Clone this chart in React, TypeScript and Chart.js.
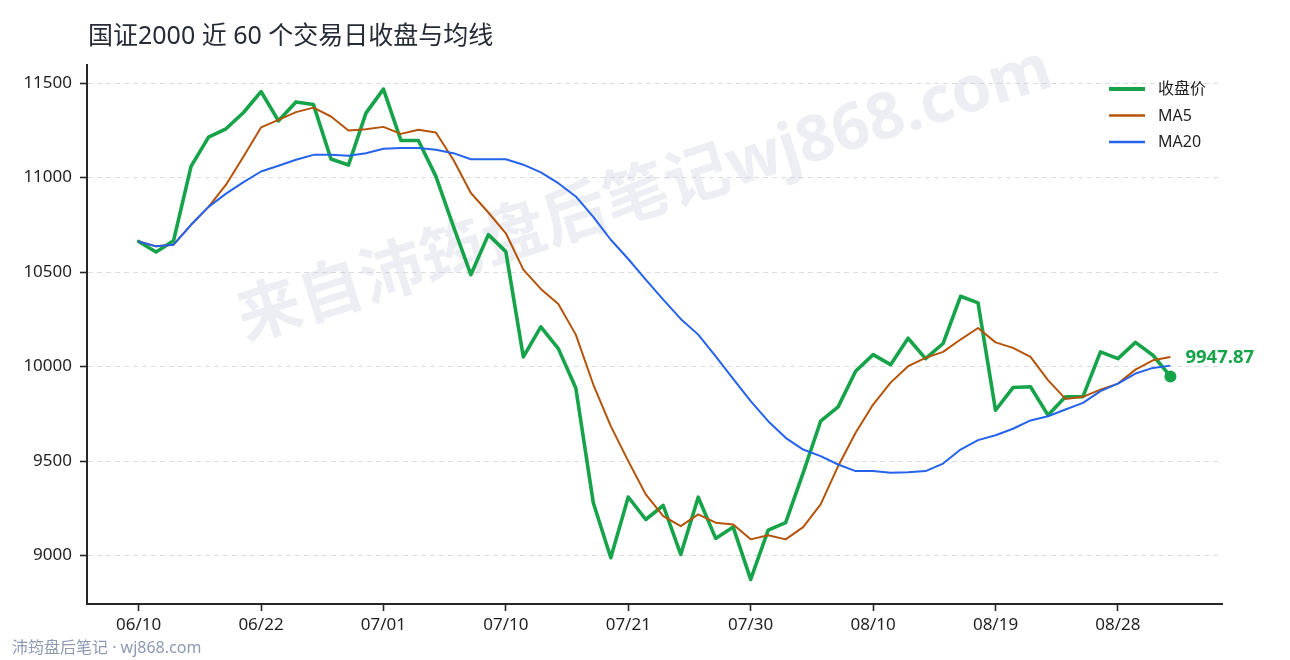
import React, { useEffect, useRef } from "react";
import { Chart, registerables } from "chart.js";

Chart.register(...registerables);

const FONT = "'Noto Sans', 'Noto Sans CJK SC', sans-serif";

const dates = [
  "06/10", "06/11", "06/12", "06/15", "06/16", "06/18", "06/19",
  "06/22", "06/23", "06/24", "06/25", "06/26", "06/29", "06/30",
  "07/01", "07/02", "07/03", "07/06", "07/07", "07/08", "07/09",
  "07/10", "07/13", "07/14", "07/15", "07/16", "07/17", "07/20",
  "07/21", "07/22", "07/23", "07/24", "07/27", "07/28", "07/29",
  "07/30", "07/31", "08/03", "08/04", "08/05", "08/06", "08/07",
  "08/10", "08/11", "08/12", "08/13", "08/14", "08/17", "08/18",
  "08/19", "08/20", "08/21", "08/24", "08/25", "08/26", "08/27",
  "08/28", "08/31", "09/01", "09/02",
];

const closeValues = [
  10662, 10606, 10666, 11059, 11214, 11258, 11344, 11455, 11300, 11400,
  11386, 11098, 11066, 11341, 11468, 11196, 11196, 11006, 10742, 10486,
  10698, 10608, 10051, 10210, 10095, 9887, 9280, 8989, 9310, 9191,
  9265, 9006, 9309, 9091, 9151, 8874, 9135, 9174, 9438, 9711,
  9787, 9975, 10063, 10010, 10150, 10042, 10122, 10372, 10337, 9769,
  9889, 9893, 9743, 9840, 9841, 10078, 10042, 10128, 10060, 9947.87,
];

const ma5Values = [
  10662, 10636, 10645, 10750, 10845, 10962, 11111, 11265, 11305, 11346,
  11370, 11323, 11249, 11256, 11268, 11231, 11253, 11238, 11094, 10918,
  10815, 10705, 10513, 10411, 10331, 10169, 9905, 9685, 9500, 9324,
  9209, 9156, 9218, 9174, 9165, 9086, 9108, 9086, 9151, 9271,
  9473, 9650, 9799, 9915, 10002, 10046, 10078, 10143, 10204, 10128,
  10099, 10051, 9928, 9829, 9840, 9878, 9910, 9984, 10033, 10051,
];

const ma20Values = [
  10662, 10636, 10645, 10750, 10845, 10915, 10976, 11032, 11062, 11094,
  11120, 11120, 11115, 11129, 11152, 11156, 11156, 11147, 11129, 11097,
  11097, 11097, 11068, 11027, 10970, 10900, 10792, 10671, 10569, 10460,
  10354, 10252, 10169, 10054, 9935, 9817, 9711, 9623, 9561, 9526,
  9482, 9447, 9447, 9438, 9441, 9447, 9487, 9561, 9611, 9637,
  9671, 9715, 9737, 9773, 9808, 9870, 9910, 9963, 9993, 10005,
];

const xTickIndices = [0, 7, 14, 21, 28, 35, 42, 49, 56];
const yTickValues = [9000, 9500, 10000, 10500, 11000, 11500];
const yMin = 8744;
const yMax = 11598;

const titleText = "国证2000 近 60 个交易日收盘与均线";
const legendLabels = ["收盘价", "MA5", "MA20"];
const watermarkText = "来自沛筠盘后笔记wj868.com";
const footerText = "沛筠盘后笔记 · wj868.com";
const lastLabel = "9947.87";

const GREEN = "#16a34a";
const ORANGE = "#b45309";
const BLUE = "#2563eb";
const colors = [GREEN, ORANGE, BLUE];
const widths = [3.6, 2, 2];

const toPoints = (arr: number[]) => arr.map((v, i) => ({ x: i, y: v }));

const decorPlugin = {
  id: "decor",
  beforeDatasetsDraw(chart: any) {
    const ctx = chart.ctx;
    ctx.save();
    ctx.translate(645, 196);
    ctx.rotate((-17.5 * Math.PI) / 180);
    ctx.font = `bold 64px ${FONT}`;
    ctx.fillStyle = "rgba(195,200,215,0.3)";
    ctx.textAlign = "center";
    ctx.textBaseline = "middle";
    ctx.fillText(watermarkText, 0, 0);
    ctx.restore();
  },
  afterDraw(chart: any) {
    const ctx = chart.ctx;
    ctx.save();
    // title
    ctx.font = `25px ${FONT}`;
    ctx.fillStyle = "#262b36";
    ctx.textAlign = "left";
    ctx.textBaseline = "middle";
    ctx.fillText(titleText, 88, 37);

    // legend
    const ly = [89, 115.5, 142];
    for (let i = 0; i < 3; i++) {
      ctx.beginPath();
      ctx.strokeStyle = colors[i];
      ctx.lineWidth = i === 0 ? 4 : 2.5;
      ctx.moveTo(1109, ly[i]);
      ctx.lineTo(1145, ly[i]);
      ctx.stroke();
      ctx.font = `16px ${FONT}`;
      ctx.fillStyle = "#1f1f1f";
      ctx.textAlign = "left";
      ctx.textBaseline = "middle";
      ctx.fillText(legendLabels[i], 1158, ly[i] + 0.5);
    }

    // end label
    const xs = chart.scales.x;
    const ys = chart.scales.y;
    const last = closeValues.length - 1;
    const px = xs.getPixelForValue(last);
    const py = ys.getPixelForValue(closeValues[last]);
    ctx.font = `bold 18.5px ${FONT}`;
    ctx.fillStyle = GREEN;
    ctx.textAlign = "left";
    ctx.textBaseline = "middle";
    ctx.fillText(lastLabel, px + 15, py - 19);

    // footer
    ctx.font = `16px ${FONT}`;
    ctx.fillStyle = "#8d9ab2";
    ctx.fillText(footerText, 12, 648);
    ctx.restore();
  },
};

export default function App() {
  const ref = useRef<HTMLCanvasElement | null>(null);

  useEffect(() => {
    if (!ref.current) return;
    const lastIdx = closeValues.length - 1;
    const chart = new Chart(ref.current, {
      type: "line",
      data: {
        datasets: [
          {
            label: legendLabels[0],
            data: toPoints(closeValues),
            borderColor: GREEN,
            backgroundColor: GREEN,
            borderWidth: widths[0],
            pointRadius: (c: any) => (c.dataIndex === lastIdx ? 6 : 0),
            pointBorderWidth: 0,
            pointBackgroundColor: GREEN,
            tension: 0,
            borderJoinStyle: "round",
            borderCapStyle: "round",
            order: 3,
          },
          {
            label: legendLabels[1],
            data: toPoints(ma5Values),
            borderColor: ORANGE,
            borderWidth: widths[1],
            pointRadius: 0,
            tension: 0,
            borderJoinStyle: "round",
            order: 2,
          },
          {
            label: legendLabels[2],
            data: toPoints(ma20Values),
            borderColor: BLUE,
            borderWidth: widths[2],
            pointRadius: 0,
            tension: 0,
            borderJoinStyle: "round",
            order: 1,
          },
        ],
      },
      options: {
        responsive: false,
        devicePixelRatio: 1,
        animation: false,
        layout: { padding: { top: 64.5, right: 68, bottom: 0, left: 0 } },
        plugins: {
          legend: { display: false },
          tooltip: { enabled: false },
          title: { display: false },
        },
        scales: {
          x: {
            type: "linear",
            min: -2.95,
            max: 61.95,
            afterBuildTicks: (s: any) => {
              s.ticks = xTickIndices.map((v) => ({ value: v }));
            },
            afterFit: (s: any) => {
              s.height = 56;
            },
            ticks: {
              autoSkip: false,
              maxRotation: 0,
              padding: 4,
              color: "#1f1f1f",
              font: { family: FONT, size: 17 },
              callback: (v: any) => dates[v as number] ?? "",
            },
            grid: {
              display: true,
              drawOnChartArea: false,
              drawTicks: true,
              tickLength: 7,
              tickColor: "#262626",
              tickWidth: 1.6,
            },
            border: { display: true, color: "#262626", width: 2 },
          },
          y: {
            type: "linear",
            min: yMin,
            max: yMax,
            afterBuildTicks: (s: any) => {
              s.ticks = yTickValues.map((v) => ({ value: v }));
            },
            afterFit: (s: any) => {
              s.width = 87;
            },
            ticks: {
              padding: 8,
              color: "#1f1f1f",
              font: { family: FONT, size: 17 },
              callback: (v: any) => String(v),
            },
            grid: {
              display: true,
              drawOnChartArea: true,
              color: "#dcdcdc",
              lineWidth: 1,
              drawTicks: true,
              tickLength: 7,
              tickColor: "#262626",
              tickWidth: 1.6,
            },
            border: { display: true, color: "#262626", width: 2, dash: [5, 4] },
          },
        },
      },
      plugins: [decorPlugin],
    } as any);
    return () => chart.destroy();
  }, []);

  return (
    <div style={{ position: "fixed", left: 0, top: 0, width: 1290, height: 660, background: "#fff" }}>
      <canvas ref={ref} width={1290} height={660} style={{ display: "block", width: 1290, height: 660 }} />
    </div>
  );
}
